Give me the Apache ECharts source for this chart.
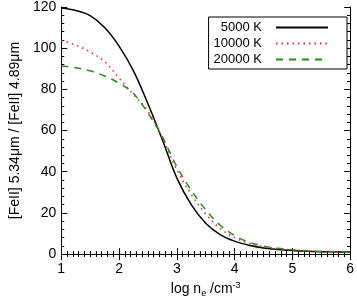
<!DOCTYPE html>
<html><head><meta charset="utf-8">
<script src="https://cdn.jsdelivr.net/npm/echarts@6/dist/echarts.min.js"></script>
<style>html,body{margin:0;padding:0;background:#fff}#c{width:357px;height:303px}</style>
</head><body><div id="c"></div>
<script>
const logNe   = [1, 1.25, 1.5, 1.75, 2.0, 2.25, 2.5, 2.75, 3.0, 3.25, 3.5, 3.75, 4.0, 4.25, 4.5, 4.75, 5.0, 5.25, 5.5, 5.75, 6.0];
const t5000   = [119.5, 118.3, 115.8, 110, 101, 89, 73, 55.5, 37, 24, 15, 9.5, 6.3, 4.3, 3.0, 2.2, 1.7, 1.4, 1.2, 1.1, 1.0];
const t10000  = [103.7, 101.5, 98.2, 93.5, 85.5, 77.5, 69.5, 56.5, 41, 29, 19.5, 12.5, 8, 5.3, 3.6, 2.6, 2.0, 1.6, 1.3, 1.15, 1.05];
const t20000  = [91.3, 90.5, 89, 86.5, 83, 78, 68.5, 57, 42.5, 31, 21.5, 14, 9, 5.8, 3.9, 2.8, 2.1, 1.6, 1.3, 1.15, 1.05];
const seriesNames = ['5000 K', '10000 K', '20000 K'];
const xTicks = [1, 2, 3, 4, 5, 6];
const yTicks = [0, 20, 40, 60, 80, 100, 120];

const font = 'Liberation Sans, Arial, Helvetica, sans-serif';
const chart = echarts.init(document.getElementById('c'), null, {renderer: 'canvas'});
const pairs = arr => logNe.map((x, i) => [x, arr[i]]);

const axisCommon = {
  axisLine: {show: true, lineStyle: {color: '#000', width: 1}},
  axisTick: {show: true, inside: true, length: 6, lineStyle: {color: '#000'}},
  minorTick: {show: true, length: 3, lineStyle: {color: '#000'}},
  splitLine: {show: false}
};

chart.setOption({
  animation: false,
  grid: {left: 49, right: 5, top: 3, bottom: 39, containLabel: false},
  xAxis: [
    Object.assign({}, axisCommon, {
      type: 'value', min: xTicks[0], max: xTicks[xTicks.length - 1], interval: 1, position: 'bottom',
      minorTick: Object.assign({}, axisCommon.minorTick, {splitNumber: 10}),
      axisLabel: {color: '#000', fontSize: 14, fontFamily: font, margin: 8},
      name: '{a|log n}{s|e}{a| /cm}{p|-3}', nameLocation: 'middle', nameGap: 24,
      nameTextStyle: {rich: {
        a: {fontSize: 14, fontFamily: font, color: '#000'},
        s: {fontSize: 9, fontFamily: font, color: '#000', verticalAlign: 'bottom', padding: [6, 0, 0, 0]},
        p: {fontSize: 9, fontFamily: font, color: '#000', verticalAlign: 'top', padding: [0, 0, 8, 0]}
      }}
    }),
    Object.assign({}, axisCommon, {
      type: 'value', min: 1, max: 6, interval: 1, position: 'top',
      minorTick: Object.assign({}, axisCommon.minorTick, {splitNumber: 10}),
      axisLabel: {show: false}
    })
  ],
  yAxis: [
    Object.assign({}, axisCommon, {
      type: 'value', min: yTicks[0], max: yTicks[yTicks.length - 1], interval: 20, position: 'left',
      minorTick: Object.assign({}, axisCommon.minorTick, {splitNumber: 5}),
      axisLabel: {color: '#000', fontSize: 14, fontFamily: font, margin: 5},
      name: '[FeII] 5.34\u03bcm / [FeII] 4.89\u03bcm', nameLocation: 'middle', nameGap: 34,
      nameTextStyle: {color: '#000', fontSize: 14, fontFamily: font}
    }),
    Object.assign({}, axisCommon, {
      type: 'value', min: 0, max: 120, interval: 20, position: 'right',
      minorTick: Object.assign({}, axisCommon.minorTick, {splitNumber: 5}),
      axisLabel: {show: false}
    })
  ],
  legend: {
    orient: 'vertical', right: 10, top: 17, align: 'right',
    backgroundColor: '#fff', borderColor: '#000', borderWidth: 1, borderRadius: 0,
    padding: [4, 18, 3, 5], itemGap: 3, itemWidth: 52, itemHeight: 14,
    itemStyle: {opacity: 0},
    textStyle: {color: '#000', fontSize: 13, fontFamily: font, width: 46, align: 'right', padding: [0, 9, 0, 0]},
    data: seriesNames.map(n => ({name: n}))
  },
  series: [
    {name: seriesNames[0], type: 'line', data: pairs(t5000), smooth: 0.35, showSymbol: false, symbol: 'none',
     lineStyle: {color: '#000', width: 1.5, type: 'solid'}, itemStyle: {color: '#000'}},
    {name: seriesNames[1], type: 'line', data: pairs(t10000), smooth: 0.35, showSymbol: false, symbol: 'none',
     lineStyle: {color: '#ff2020', width: 1.5, type: [1.5, 4]}, itemStyle: {color: '#ff2020'}},
    {name: seriesNames[2], type: 'line', data: pairs(t20000), smooth: 0.35, showSymbol: false, symbol: 'none',
     lineStyle: {color: '#2a8a1e', width: 1.5, type: [7, 6]}, itemStyle: {color: '#2a8a1e'}}
  ]
});
</script></body></html>
